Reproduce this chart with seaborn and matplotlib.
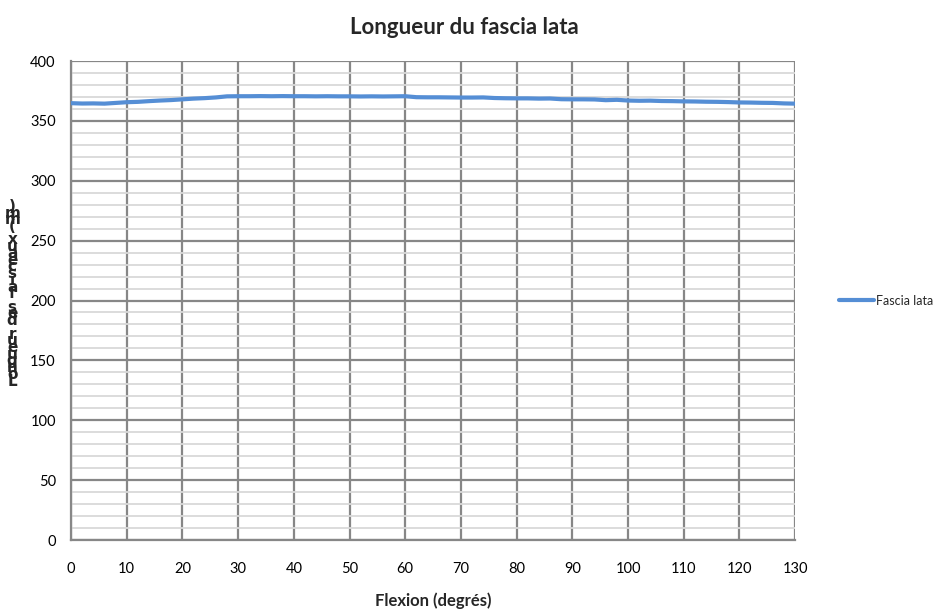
import pandas as pd
import matplotlib
matplotlib.use("Agg")
import matplotlib.pyplot as plt
from matplotlib.ticker import MultipleLocator
import seaborn as sns

# data
flexion = [0, 2, 4, 6, 8, 10, 12, 14, 16, 18, 20, 22, 24, 26, 28, 30, 32, 34,
           36, 38, 40, 42, 44, 46, 48, 50, 52, 54, 56, 58, 60, 62, 64, 66, 68,
           70, 72, 74, 76, 78, 80, 82, 84, 86, 88, 90, 92, 94, 96, 98, 100,
           102, 104, 106, 108, 110, 112, 114, 116, 118, 120, 122, 124, 126,
           128, 130]
longueur = [364.8, 364.5, 364.6, 364.4, 365.0, 365.6, 365.9, 366.5, 367.0,
            367.4, 368.0, 368.6, 369.0, 369.6, 370.5, 370.6, 370.6, 370.7,
            370.6, 370.7, 370.6, 370.6, 370.5, 370.6, 370.5, 370.5, 370.4,
            370.5, 370.4, 370.5, 370.6, 369.8, 369.7, 369.7, 369.6, 369.5,
            369.5, 369.6, 369.1, 368.9, 368.8, 368.8, 368.6, 368.7, 368.1,
            368.0, 368.0, 367.9, 367.3, 367.6, 367.0, 366.8, 366.9, 366.6,
            366.5, 366.3, 366.2, 366.0, 365.9, 365.7, 365.4, 365.3, 365.1,
            365.0, 364.6, 364.4]
serie = "Fascia lata"
titre = "Longueur du fascia lata"
xlabel = "Flexion (degrés)"
ylabel = "Longueur des faisceaux (mm)"

df = pd.DataFrame({"flexion": flexion, "longueur": longueur, "serie": serie})

sns.set_style("white")
plt.rcParams["font.family"] = ["Lato", "DejaVu Sans"]

fig, ax = plt.subplots(figsize=(9.41, 6.12), dpi=100)
fig.subplots_adjust(left=0.0755, right=0.845, top=0.9003, bottom=0.1176)

sns.lineplot(data=df, x="flexion", y="longueur", hue="serie",
             palette=["#558ed5"], linewidth=3, ax=ax, zorder=5)

ax.set_xlim(0, 130)
ax.set_ylim(0, 400)
ax.xaxis.set_major_locator(MultipleLocator(10))
ax.yaxis.set_major_locator(MultipleLocator(50))
ax.yaxis.set_minor_locator(MultipleLocator(10))
ax.grid(which="minor", axis="y", color="#d9d9d9", linewidth=1.3)
ax.grid(which="major", axis="both", color="#878787", linewidth=1.6)
ax.set_axisbelow(True)

for s in ["top", "right"]:
    ax.spines[s].set_visible(False)
for s in ["left", "bottom"]:
    ax.spines[s].set_color("#878787")
    ax.spines[s].set_linewidth(1.6)

ax.tick_params(axis="both", which="major", direction="out", length=5,
               width=1.3, color="#878787", labelsize=10.5, labelcolor="black")
ax.tick_params(axis="y", which="minor", length=0)
ax.tick_params(axis="x", pad=11)
ax.tick_params(axis="y", pad=6)

ax.set_xlabel(xlabel, fontsize=12, fontweight="bold", labelpad=12)
ax.set_ylabel("")
fig.suptitle(titre, x=0.494, y=0.972, fontsize=16, fontweight="bold")

# stacked y label, as in the reference
fig.text(0.013, 0.52, "\n".join(reversed(ylabel)), fontsize=11,
         family="DejaVu Sans", fontweight="bold", ha="center", va="center",
         linespacing=0.31)

leg = ax.legend(loc="center left", bbox_to_anchor=(1.045, 0.5), frameon=False,
                fontsize=9, handlelength=2.8, handletextpad=0.2)
for h in leg.get_lines():
    h.set_linewidth(3)

fig.savefig("out.png", dpi=100)
